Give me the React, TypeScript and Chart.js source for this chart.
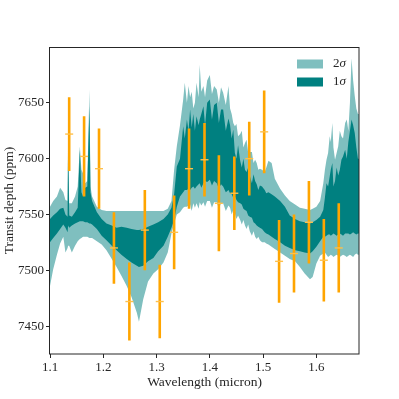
import React, { useEffect, useRef } from "react";
import { Chart, registerables } from "chart.js";
Chart.register(...registerables);

// ---- model band (wavelength grid + 1σ / 2σ envelopes, ppm) ----
const bandWl = [
  1.100, 1.106, 1.113, 1.119, 1.125, 1.129, 1.133, 1.134, 1.136, 1.141,
  1.147, 1.152, 1.156, 1.159, 1.162, 1.166, 1.170, 1.174, 1.176, 1.179,
  1.188, 1.197, 1.206, 1.216, 1.225, 1.234, 1.244, 1.253, 1.263, 1.267,
  1.275, 1.284, 1.294, 1.303, 1.313, 1.321, 1.328, 1.333, 1.338, 1.344,
  1.350, 1.353, 1.357, 1.360, 1.363, 1.366, 1.369, 1.372, 1.375, 1.379,
  1.381, 1.384, 1.388, 1.391, 1.395, 1.400, 1.404, 1.408, 1.413, 1.417,
  1.421, 1.425, 1.430, 1.435, 1.438, 1.441, 1.444, 1.447, 1.450, 1.453,
  1.457, 1.460, 1.463, 1.466, 1.469, 1.472, 1.475, 1.479, 1.482, 1.485,
  1.488, 1.491, 1.494, 1.498, 1.503, 1.506, 1.510, 1.516, 1.522, 1.532,
  1.541, 1.550, 1.560, 1.569, 1.578, 1.588, 1.593, 1.600, 1.607, 1.613,
  1.616, 1.619, 1.622, 1.625, 1.627, 1.630, 1.632, 1.635, 1.638, 1.641,
  1.644, 1.647, 1.650, 1.654, 1.657, 1.660, 1.663, 1.666, 1.669, 1.672,
  1.675, 1.678, 1.680,
];
const lo2 = [
  7486, 7501, 7514, 7524, 7530, 7516, 7520, 7522, 7522, 7516,
  7522, 7526, 7528, 7529, 7530, 7530, 7530, 7529, 7529, 7529,
  7526, 7523, 7518, 7510, 7503, 7495, 7486, 7476, 7462, 7454,
  7474, 7490, 7497, 7501, 7507, 7516, 7533, 7542, 7550, 7552,
  7556, 7557, 7557, 7558, 7559, 7553, 7560, 7556, 7560, 7555,
  7561, 7558, 7561, 7557, 7562, 7562, 7556, 7561, 7561, 7555,
  7560, 7560, 7553, 7558, 7556, 7550, 7554, 7551, 7546, 7549,
  7545, 7541, 7545, 7540, 7537, 7541, 7535, 7531, 7535, 7530,
  7528, 7530, 7527, 7525, 7525, 7524, 7523, 7521, 7519, 7516,
  7513, 7510, 7508, 7503, 7497, 7492, 7494, 7506, 7513, 7515,
  7516, 7514, 7512, 7513, 7514, 7513, 7512, 7513, 7514, 7513,
  7512, 7513, 7514, 7513, 7512, 7513, 7514, 7513, 7512, 7514,
  7515, 7514, 7514,
];
const lo1 = [
  7525, 7529, 7533, 7537, 7541, 7538, 7534, 7540, 7538, 7540,
  7542, 7543, 7544, 7544, 7544, 7543, 7543, 7542, 7542, 7541,
  7537, 7531, 7527, 7522, 7518, 7514, 7510, 7507, 7504, 7503,
  7504, 7508, 7511, 7517, 7522, 7530, 7538, 7545, 7557, 7566,
  7570, 7572, 7572, 7573, 7572, 7574, 7575, 7573, 7575, 7577,
  7578, 7574, 7578, 7580, 7579, 7581, 7576, 7580, 7578, 7573,
  7577, 7575, 7570, 7572, 7569, 7568, 7565, 7566, 7563, 7561,
  7560, 7559, 7555, 7554, 7553, 7549, 7548, 7547, 7543, 7542,
  7540, 7539, 7538, 7537, 7534, 7533, 7532, 7530, 7528, 7525,
  7522, 7520, 7518, 7517, 7516, 7515, 7517, 7521, 7526, 7530,
  7530, 7531, 7532, 7532, 7531, 7532, 7533, 7532, 7531, 7532,
  7533, 7532, 7531, 7533, 7533, 7533, 7532, 7533, 7534, 7533,
  7532, 7533, 7533,
];
const hi1 = [
  7546, 7549, 7552, 7555, 7556, 7550, 7548, 7617, 7549, 7548,
  7552, 7556, 7608, 7570, 7566, 7574, 7575, 7647, 7570, 7562,
  7552, 7546, 7542, 7540, 7538, 7539, 7538, 7537, 7536, 7536,
  7537, 7539, 7541, 7543, 7546, 7550, 7556, 7568, 7593, 7600,
  7629, 7618, 7635, 7625, 7644, 7628, 7640, 7625, 7638, 7630,
  7635, 7640, 7647, 7630, 7650, 7653, 7635, 7648, 7650, 7632,
  7644, 7644, 7625, 7636, 7630, 7618, 7626, 7605, 7600, 7612,
  7598, 7592, 7600, 7590, 7588, 7592, 7585, 7578, 7586, 7580,
  7577, 7572, 7576, 7575, 7572, 7569, 7570, 7568, 7566, 7562,
  7557, 7549, 7546, 7544, 7543, 7542, 7543, 7545, 7548, 7554,
  7565, 7578, 7575, 7584, 7590, 7596, 7575, 7580, 7592, 7585,
  7590, 7599, 7602, 7608, 7600, 7615, 7625, 7635, 7630, 7623,
  7610, 7600, 7600,
];
const hi2 = [
  7557, 7562, 7566, 7574, 7570, 7563, 7562, 7620, 7560, 7560,
  7566, 7575, 7611, 7590, 7587, 7578, 7580, 7662, 7575, 7566,
  7557, 7554, 7553, 7553, 7553, 7553, 7553, 7553, 7553, 7553,
  7553, 7553, 7553, 7553, 7553, 7555, 7562, 7590, 7611, 7630,
  7653, 7668, 7650, 7665, 7655, 7660, 7645, 7650, 7668, 7655,
  7684, 7660, 7665, 7655, 7670, 7675, 7658, 7665, 7662, 7650,
  7664, 7659, 7648, 7665, 7645, 7640, 7632, 7629, 7631, 7620,
  7622, 7625, 7610, 7614, 7617, 7605, 7606, 7606, 7596, 7599,
  7596, 7590, 7591, 7590, 7588, 7592, 7598, 7596, 7582, 7573,
  7567, 7562, 7559, 7556, 7555, 7554, 7555, 7557, 7562, 7578,
  7590, 7599, 7605, 7620, 7615, 7632, 7610, 7599, 7605, 7611,
  7625, 7620, 7618, 7632, 7635, 7625, 7650, 7690, 7670, 7656,
  7645, 7640, 7640,
];

// ---- observed points with 1σ error bars ----
const obsWl = [
  1.136, 1.164, 1.192, 1.220, 1.249, 1.278, 1.306, 1.333, 1.361, 1.390,
  1.417, 1.446, 1.474, 1.502, 1.530, 1.558, 1.586, 1.614, 1.642,
];
const obsDepth = [
  7622, 7602, 7591, 7520, 7472, 7536, 7472, 7534, 7591, 7599,
  7560, 7569, 7600, 7624, 7508, 7515, 7543, 7509, 7520,
];
const obsErr = [
  33, 36, 36, 32, 35, 36, 33, 33, 36, 33,
  43, 33, 33, 37, 37, 35, 37, 37, 40,
];

const xTicks = [1.1, 1.2, 1.3, 1.4, 1.5, 1.6];
const yTicks = [7450, 7500, 7550, 7600, 7650];
const legendNums = ["2", "1"];

const TEAL = "#008080";
const TEAL_LIGHT = "#7fbfbf";
const ORANGE = "#ffa500";
const CAP = "#ffc04a";
const INK = "#262626";
const FONT = "'Liberation Serif', 'DejaVu Serif', serif";

export default function App() {
  const ref = useRef<HTMLCanvasElement>(null);

  useEffect(() => {
    const pts = (arr: number[]) => bandWl.map((x, i) => ({ x, y: arr[i] }));
    const errPts: any[] = [];
    obsWl.forEach((x, i) => {
      errPts.push({ x, y: obsDepth[i] - obsErr[i] });
      errPts.push({ x, y: obsDepth[i] + obsErr[i] });
      errPts.push({ x, y: null });
    });

    const framePlugin = {
      id: "frameAndLegend",
      afterDraw(chart: any) {
        const { ctx, chartArea } = chart;
        const { left, top, right, bottom } = chartArea;
        ctx.save();
        ctx.strokeStyle = INK;
        ctx.lineWidth = 1;
        ctx.strokeRect(Math.round(left) - 0.5, Math.round(top) + 0.5, Math.round(right - left) + 0.5, Math.round(bottom - top) - 0.5);
        // legend
        const colors = [TEAL_LIGHT, TEAL];
        const rowsY = [top + 17, top + 35];
        legendNums.forEach((n, i) => {
          const cy = rowsY[i];
          ctx.fillStyle = colors[i];
          ctx.fillRect(right - 62, cy - 4.5, 26, 9);
          ctx.fillStyle = INK;
          ctx.textBaseline = "middle";
          ctx.textAlign = "left";
          ctx.font = `13px ${FONT}`;
          const x0 = right - 26;
          ctx.fillText(n, x0, cy);
          const w = ctx.measureText(n).width;
          ctx.font = `italic 13px ${FONT}`;
          ctx.fillText("σ", x0 + w, cy);
        });
        ctx.restore();
      },
    };

    const chart = new Chart(ref.current as HTMLCanvasElement, {
      type: "line",
      data: {
        datasets: [
          { label: "lo2", data: pts(lo2), borderWidth: 0, borderColor: "rgba(0,0,0,0)", pointRadius: 0, fill: false, order: 5 },
          { label: "2σ", data: pts(hi2), borderWidth: 0, borderColor: "rgba(0,0,0,0)", pointRadius: 0, fill: "-1", backgroundColor: TEAL_LIGHT, order: 4 },
          { label: "lo1", data: pts(lo1), borderWidth: 0, borderColor: "rgba(0,0,0,0)", pointRadius: 0, fill: false, order: 3 },
          { label: "1σ", data: pts(hi1), borderWidth: 0, borderColor: "rgba(0,0,0,0)", pointRadius: 0, fill: "-1", backgroundColor: TEAL, order: 2 },
          { label: "err", data: errPts, borderWidth: 2.6, borderColor: ORANGE, pointRadius: 0, fill: false, spanGaps: false, order: 1 },
          {
            label: "obs",
            data: obsWl.map((x, i) => ({ x, y: obsDepth[i] })),
            showLine: false,
            pointStyle: "line",
            pointRadius: 4,
            pointBorderWidth: 1.4,
            pointBorderColor: CAP,
            pointBackgroundColor: CAP,
            borderColor: CAP,
            fill: false,
            order: 0,
          },
        ] as any,
      },
      options: {
        animation: false,
        responsive: false,
        maintainAspectRatio: false,
        devicePixelRatio: 1,
        layout: { padding: { left: 0, top: 47, right: 40, bottom: 0 } },
        plugins: {
          legend: { display: false },
          tooltip: { enabled: false },
        },
        elements: { line: { tension: 0 } },
        scales: {
          x: {
            type: "linear",
            min: 1.1,
            max: 1.68,
            afterBuildTicks: (s: any) => { s.ticks = xTicks.map((v) => ({ value: v })); },
            afterFit: (s: any) => { s.height = 45; },
            ticks: {
              font: { family: FONT, size: 13 },
              color: INK,
              padding: 2,
              maxRotation: 0,
              autoSkip: false,
              callback: (v: any) => Number(v).toFixed(1),
            },
            grid: { drawOnChartArea: false, drawTicks: true, tickLength: 4, color: INK },
            border: { display: false },
            title: { display: true, text: "Wavelength (micron)", font: { family: FONT, size: 13.5 }, color: INK, padding: { top: 0, bottom: 8.5 } },
          },
          y: {
            type: "linear",
            min: 7425,
            max: 7700,
            afterBuildTicks: (s: any) => { s.ticks = yTicks.map((v) => ({ value: v })); },
            afterFit: (s: any) => { s.width = 50; },
            ticks: {
              font: { family: FONT, size: 13 },
              color: INK,
              padding: 2,
              autoSkip: false,
              callback: (v: any) => String(v),
            },
            grid: { drawOnChartArea: false, drawTicks: true, tickLength: 4, color: INK },
            border: { display: false },
            title: { display: true, text: "Transit depth (ppm)", font: { family: FONT, size: 13.5 }, color: INK, padding: { top: 1, bottom: 0 } },
          },
        },
      } as any,
      plugins: [framePlugin],
    });
    return () => chart.destroy();
  }, []);

  return (
    <div style={{ position: "fixed", left: 0, top: 0, width: 399, height: 399, background: "#fff" }}>
      <canvas ref={ref} width={399} height={399} style={{ display: "block", width: 399, height: 399 }} />
    </div>
  );
}
